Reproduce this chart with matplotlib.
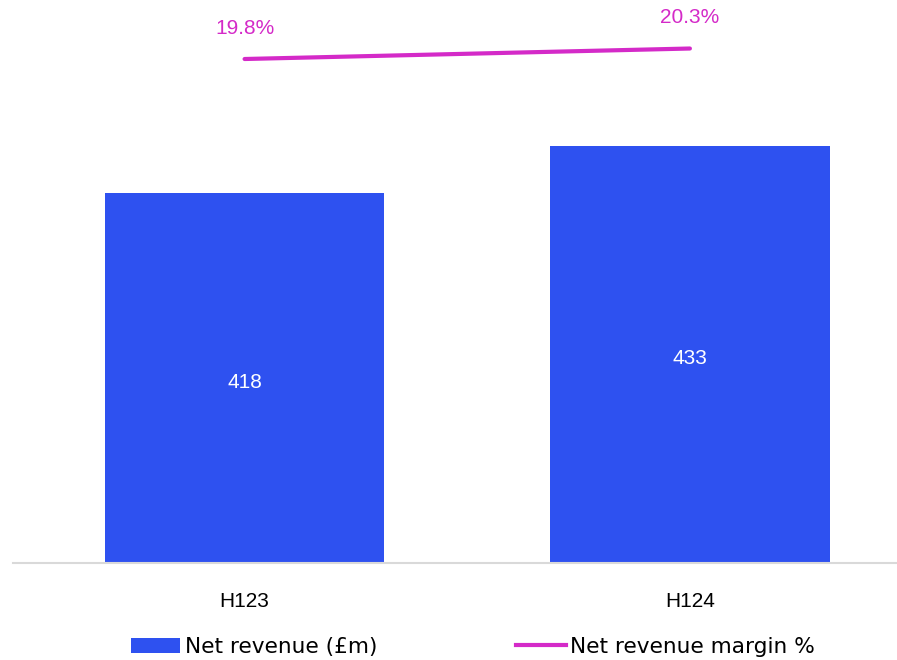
import matplotlib.pyplot as plt
from matplotlib.patches import Patch
from matplotlib.lines import Line2D

plt.rcParams['font.family'] = ['Liberation Sans', 'DejaVu Sans']

# Dados
periods = ['H123', 'H124']
net_revenue = [418, 433]          # £m
margin = [19.8, 20.3]             # %
margin_labels = ['19.8%', '20.3%']

bar_color = '#2E51F0'
line_color = '#D42AC8'

fig = plt.figure(figsize=(8.97, 6.6), dpi=100)
ax = fig.add_axes([13 / 897, 97 / 660, 884 / 897, 563 / 660])

x = list(range(len(periods)))
bars = ax.bar(x, net_revenue, width=0.627, color=bar_color, zorder=2)
ax.set_ylim(300, 479.7)
ax.set_xlim(-0.52, 1.465)

for xi, v in zip(x, net_revenue):
    ax.annotate(str(v), (xi, (300 + v) / 2), xytext=(0, -3), textcoords='offset points',
                color='white', fontsize=15, ha='center', va='center')

ax.set_xticks(x)
ax.set_xticklabels(periods, fontsize=15)
ax.tick_params(axis='x', length=0, pad=21)
ax.set_yticks([])
for s in ['top', 'right', 'left']:
    ax.spines[s].set_visible(False)
ax.spines['bottom'].set_color('#d9d9d9')
ax.spines['bottom'].set_linewidth(1.5)

# Margem no eixo secundário
ax2 = ax.twinx()
ax2.plot(x, margin, color=line_color, linewidth=3, solid_capstyle='round', zorder=3)
ax2.set_ylim(-4.2, 22.61)
ax2.set_yticks([])
for s in ax2.spines.values():
    s.set_visible(False)
for xi, m, lab in zip(x, margin, margin_labels):
    ax2.annotate(lab, (xi, m), xytext=(0, 22), textcoords='offset points',
                 ha='center', va='center', color=line_color, fontsize=15,
                 annotation_clip=False)

handles = [Patch(facecolor=bar_color, label='Net revenue (£m)'),
           Line2D([0], [0], color=line_color, linewidth=3, label='Net revenue margin %')]
fig.legend(handles=handles, loc='center', bbox_to_anchor=(0.527, 13 / 660),
           ncol=2, frameon=False, prop={'family': 'DejaVu Sans', 'size': 15.6},
           handlelength=2.3, handleheight=0.72, handletextpad=0.2, columnspacing=6.4)

fig.savefig('out.png', dpi=100)
